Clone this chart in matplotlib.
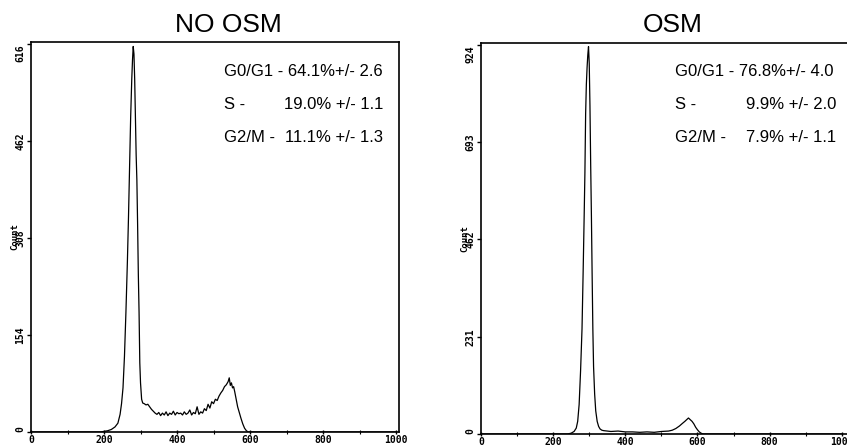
import matplotlib
matplotlib.use("Agg")
import matplotlib.pyplot as plt
from matplotlib.ticker import MultipleLocator

# ------------------------------------------------------------------------------------------
# DNA content histograms (channel, count)
titles = ["NO OSM", "OSM"]

ch_no_osm = [0, 100, 190, 200, 210, 220, 230, 238, 244, 248, 252, 256, 260, 264, 267, 270,
             273, 276, 278, 280, 282, 284, 286, 288, 290, 292, 294, 296, 298, 300, 303, 306,
             310, 315, 320, 325, 330, 335, 340, 345, 350, 355, 360, 365, 370, 375, 380, 385,
             390, 395, 400, 405, 410, 415, 420, 425, 430, 435, 440, 445, 450, 455, 460, 465,
             470, 475, 480, 485, 490, 495, 500, 505, 510, 515, 520, 525, 530, 535, 540, 543,
             546, 549, 552, 555, 558, 562, 566, 570, 575, 580, 585, 590, 595, 1000]
cnt_no_osm = [0, 0, 0, 1, 2, 4, 8, 14, 28, 45, 70, 120, 190, 270, 340, 420,
              500, 560, 590, 612, 600, 560, 500, 440, 400, 330, 250, 190, 110, 78, 52, 46,
              45, 43, 44, 40, 36, 33, 30, 28, 31, 26, 30, 27, 32, 26, 30, 28,
              33, 27, 31, 29, 30, 27, 32, 28, 30, 35, 27, 31, 29, 40, 28, 32,
              30, 37, 34, 44, 38, 48, 45, 52, 50, 57, 62, 66, 72, 75, 80, 86,
              74, 78, 70, 72, 64, 52, 40, 32, 22, 13, 6, 2, 0, 0]

ch_osm = [0, 240, 250, 258, 264, 268, 272, 276, 280, 283, 286, 288, 290, 292, 294, 296,
          298, 300, 302, 304, 306, 308, 310, 312, 315, 318, 322, 326, 330, 335, 340, 350,
          360, 380, 400, 420, 440, 460, 480, 500, 520, 530, 540, 550, 558, 565, 570, 575,
          580, 585, 590, 595, 600, 605, 610, 615, 1000]
cnt_osm = [0, 0, 2, 6, 14, 30, 70, 150, 250, 380, 520, 620, 760, 830, 870, 900,
           920, 880, 780, 640, 520, 380, 250, 160, 95, 55, 30, 18, 12, 9, 8, 7,
           6, 7, 5, 5, 4, 5, 4, 6, 7, 9, 13, 19, 25, 30, 34, 38,
           34, 30, 24, 16, 10, 5, 2, 0, 0]

yticks_no_osm = [0, 154, 308, 462, 616]
yticks_osm = [0, 231, 462, 693, 924]
xticks = [0, 200, 400, 600, 800, 1000]

phase_names = ["G0/G1 - ", "S -", "G2/M -"]
phase_vals_no_osm = ["64.1%+/- 2.6", "19.0% +/- 1.1", "11.1% +/- 1.3"]
phase_vals_osm = ["76.8%+/- 4.0", "9.9% +/- 2.0", "7.9% +/- 1.1"]

# ------------------------------------------------------------------------------------------
W, H = 847, 448
fig = plt.figure(figsize=(W / 100, H / 100), dpi=100)

tick_font = dict(family="DejaVu Sans Mono", weight="bold", size=7)
txt_family = ["Liberation Sans Narrow", "Liberation Sans", "DejaVu Sans"]


def px_box(left, top, right, bottom):
    return [left / W, 1 - bottom / H, (right - left) / W, (bottom - top) / H]


panels = [
    dict(box=px_box(31, 42, 399, 432), xmax=1008, ch=ch_no_osm, cnt=cnt_no_osm,
         yt=yticks_no_osm, vals=phase_vals_no_osm, title_x=228, text_x=224, text_r=383),
    dict(box=px_box(481, 43, 849, 434), xmax=1020, ch=ch_osm, cnt=cnt_osm,
         yt=yticks_osm, vals=phase_vals_osm, title_x=673, text_x=675, text_r=836),
]

for crrt_index, crrt_panel in enumerate(panels):
    ax = fig.add_axes(crrt_panel["box"])
    ax.plot(crrt_panel["ch"], crrt_panel["cnt"], color="black", lw=0.9)

    ax.set_xlim(0, crrt_panel["xmax"])
    ax.set_ylim(0, crrt_panel["yt"][-1] * 1.005)

    for sp in ax.spines.values():
        sp.set_linewidth(1.2)

    ax.set_xticks(xticks)
    ax.set_xticklabels([str(v) for v in xticks], fontdict=tick_font)
    ax.xaxis.set_minor_locator(MultipleLocator(100))
    ax.set_yticks(crrt_panel["yt"])
    ax.set_yticklabels([str(v) for v in crrt_panel["yt"]], fontdict=tick_font,
                       rotation=90, va="center")
    labels = ax.get_yticklabels()
    labels[0].set_va("bottom")
    labels[-1].set_va("top")
    ax.tick_params(axis="x", which="major", direction="inout", length=3, width=1, pad=0.5)
    ax.tick_params(axis="x", which="minor", direction="inout", length=3, width=0.8)
    ax.tick_params(axis="y", which="major", direction="out", length=3, width=1, pad=1)

    # tiny "Count" label overlapping the middle tick label
    ax.text(-0.045, 0.5, "Count", transform=ax.transAxes, rotation=90,
            ha="center", va="center", family="DejaVu Sans Mono", weight="bold", size=6.5)

    # title
    fig.text(crrt_panel["title_x"] / W, 1 - 25 / H, titles[crrt_index],
             ha="center", va="center", family=["Liberation Sans", "DejaVu Sans"], size=19)

    # cell-cycle phase percentages
    for crrt_line, (crrt_name, crrt_val) in enumerate(zip(phase_names, crrt_panel["vals"])):
        y = 1 - (71 + 33 * crrt_line) / H
        if crrt_line == 0:
            fig.text(crrt_panel["text_x"] / W, y, crrt_name + crrt_val, ha="left", va="center",
                     family=txt_family, size=12)
        else:
            fig.text(crrt_panel["text_x"] / W, y, crrt_name, ha="left", va="center",
                     family=txt_family, size=12)
            fig.text(crrt_panel["text_r"] / W, y, crrt_val, ha="right", va="center",
                     family=txt_family, size=12)

fig.savefig("out.png", dpi=100)
